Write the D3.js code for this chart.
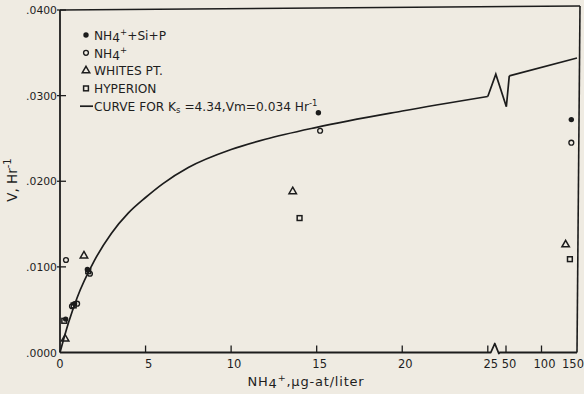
<!DOCTYPE html>
<html><head><meta charset="utf-8">
<script src="https://cdn.jsdelivr.net/npm/d3@7"></script>
<style>
html,body{margin:0;padding:0;background:#efebe2;}
svg{display:block;}
text{font-family:"DejaVu Sans","Open Sans",sans-serif;fill:#1e1e1e;}
</style></head>
<body>
<svg id="c" width="584" height="394"></svg>
<script>
// ---- data ----
const xTickValues = [0, 5, 10, 15, 20, 25, 50, 100, 150];
const xTickLabels = ["0", "5", "10", "15", "20", "25", "50", "100", "150"];
const yTickValues = [0, 0.01, 0.02, 0.03, 0.04];
const yTickLabels = [".0000", ".0100", ".0200", ".0300", ".0400"];

const nh4SiP = [[0.33, 0.0039], [0.85, 0.0057], [1.6, 0.0097], [15.1, 0.0280], [142, 0.0272]];
const nh4Only = [[0.35, 0.0108], [0.7, 0.0054], [1.0, 0.0057], [1.75, 0.0092], [15.2, 0.0259], [142, 0.0245]];
const whitesPt = [[0.3, 0.0016], [1.4, 0.0113], [13.6, 0.0188], [134, 0.0126]];
const hyperion = [[0.25, 0.0037], [0.8, 0.0055], [1.65, 0.0095], [14.0, 0.0157], [140, 0.0109]];

const curveLow = [[0, 0], [0.5, 0.0035], [1, 0.0064], [2, 0.0107], [3, 0.0139], [4, 0.0163], [5, 0.0181],
  [6, 0.0197], [7.5, 0.0216], [10, 0.0237], [12, 0.0249], [15, 0.0263], [20, 0.0282], [25, 0.0299]];
const curveBreak = [[25, 0.0299], [36, 0.0325], [50.5, 0.0287], [54.6, 0.0323]];
const curveHigh = [[54.6, 0.0323], [150, 0.0344]];

const legendItems = [
  {sym: "filled", parts: [["NH", 0], ["4", 2], ["+", -7, 8.5], ["+Si+P", 5]]},
  {sym: "open", parts: [["NH", 0], ["4", 2], ["+", -7, 8.5]]},
  {sym: "tri", parts: [["WHITES PT.", 0]]},
  {sym: "sq", parts: [["HYPERION", 0]]},
  {sym: "line", parts: [["CURVE FOR K", 0], ["s", 2, 8.5], [" =4.34,Vm=0.034 Hr", -2], ["-1", -5, 8.5]]}
];

// ---- layout ----
const ink = "#1c1c1c";
const svg = d3.select("#c");
const x = d3.scaleLinear().domain([0, 25, 50, 150]).range([60, 487.8, 506, 577]);
const y = d3.scaleLinear().domain([0, 0.04]).range([352.5, 10]);

const g = svg.append("g");

// frame: left axis, top and right borders
g.append("line").attr("x1", x(0)).attr("x2", x(0)).attr("y1", y(0)).attr("y2", y(0.04))
  .attr("stroke", ink).attr("stroke-width", 1.8);
g.append("line").attr("x1", x(0)).attr("x2", x(150) + 3).attr("y1", y(0.04)).attr("y2", y(0.04) - 4)
  .attr("stroke", ink).attr("stroke-width", 1.6);
g.append("line").attr("x1", x(150) + 3).attr("x2", x(150)).attr("y1", y(0.04) - 4).attr("y2", y(0))
  .attr("stroke", ink).attr("stroke-width", 1.6);

// bottom axis with break
const y0 = y(0);
const bx = x(25);
g.append("path")
  .attr("d", `M${x(0)},${y0}H${bx + 3}L${bx + 7},${y0 - 9}L${bx + 11},${y0 + 1}L${bx + 12},${y0}H${x(150)}`)
  .attr("fill", "none").attr("stroke", ink).attr("stroke-width", 1.8).attr("stroke-linejoin", "round");

// x ticks (inward) and labels
xTickValues.forEach((v, i) => {
  if (v === 150 || v === 0) return;
  g.append("line").attr("x1", x(v)).attr("x2", x(v)).attr("y1", y0).attr("y2", y0 - 7)
    .attr("stroke", ink).attr("stroke-width", 1.3);
});
g.selectAll(".xl").data(xTickValues).enter().append("text")
  .attr("x", d => d === 150 ? 584 : x(d) + (d === 0 ? 0 : 3)).attr("y", y0 + 15)
  .attr("text-anchor", d => d === 150 ? "end" : "middle").attr("font-size", 11.5)
  .text((d, i) => xTickLabels[i]);

// y ticks and labels
yTickValues.forEach(v => {
  if (v === 0) return;
  g.append("line").attr("x1", x(0) - 3).attr("x2", x(0) + 6).attr("y1", y(v)).attr("y2", y(v))
    .attr("stroke", ink).attr("stroke-width", 1.3);
});
g.selectAll(".yl").data(yTickValues).enter().append("text")
  .attr("x", 57).attr("y", d => y(d) + 4)
  .attr("text-anchor", "end").attr("font-size", 10.8)
  .text((d, i) => yTickLabels[i]);

// axis titles
const yt = g.append("text").attr("transform", "translate(17,180) rotate(-90)")
  .attr("text-anchor", "middle").attr("font-size", 13.5);
yt.append("tspan").text("V, Hr");
yt.append("tspan").attr("dy", -6).attr("font-size", 10).text("-1");

const xt = g.append("text").attr("x", 306).attr("y", 386).attr("text-anchor", "middle")
  .attr("font-size", 13).attr("letter-spacing", 0.8);
xt.append("tspan").text("NH");
xt.append("tspan").attr("dy", 2).text("4");
xt.append("tspan").attr("dy", -7).attr("font-size", 9.5).text("+");
xt.append("tspan").attr("dy", 5).text(",μg-at/liter");

// curve
const lineSmooth = d3.line().x(d => x(d[0])).y(d => y(d[1])).curve(d3.curveMonotoneX);
const lineStraight = d3.line().x(d => x(d[0])).y(d => y(d[1]));
[[curveLow, lineSmooth], [curveBreak, lineStraight], [curveHigh, lineStraight]].forEach(([d, l]) => {
  g.append("path").attr("d", l(d)).attr("fill", "none").attr("stroke", ink)
    .attr("stroke-width", 1.7).attr("stroke-linejoin", "miter");
});

// markers
function drawSym(sel, sym) {
  if (sym === "filled") {
    sel.append("circle").attr("r", 2.7).attr("fill", ink);
  } else if (sym === "open") {
    sel.append("circle").attr("r", 2.4).attr("fill", "none").attr("stroke", ink).attr("stroke-width", 1.4);
  } else if (sym === "tri") {
    sel.append("path").attr("d", d3.symbol(d3.symbolTriangle, 24)()).attr("fill", "none")
      .attr("stroke", ink).attr("stroke-width", 1.5);
  } else if (sym === "sq") {
    sel.append("rect").attr("x", -2.4).attr("y", -2.4).attr("width", 4.8).attr("height", 4.8)
      .attr("fill", "none").attr("stroke", ink).attr("stroke-width", 1.5);
  }
}
[[nh4SiP, "filled"], [nh4Only, "open"], [whitesPt, "tri"], [hyperion, "sq"]].forEach(([data, sym]) => {
  data.forEach(d => {
    const s = g.append("g").attr("transform", `translate(${x(d[0])},${y(d[1])})`);
    drawSym(s, sym);
  });
});

// legend
legendItems.forEach((item, i) => {
  const ly = 35 + i * 17.8;
  if (item.sym === "line") {
    g.append("line").attr("x1", 80).attr("x2", 93).attr("y1", ly).attr("y2", ly)
      .attr("stroke", ink).attr("stroke-width", 1.7);
  } else {
    drawSym(g.append("g").attr("transform", `translate(86,${ly})`), item.sym);
  }
  const t = g.append("text").attr("x", 94).attr("y", ly + 4.8).attr("font-size", 12.2);
  item.parts.forEach(p => {
    const ts = t.append("tspan").attr("dy", p[1]).text(p[0]);
    if (p[2]) ts.attr("font-size", p[2]);
  });
});
</script>
</body></html>
